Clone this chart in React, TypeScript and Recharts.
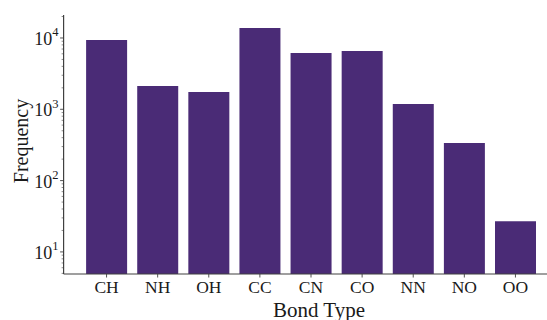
import { BarChart, Bar, XAxis, YAxis, Label } from "recharts";

const bonds = ["CH", "NH", "OH", "CC", "CN", "CO", "NN", "NO", "OO"];
const counts = [9400, 2120, 1750, 13800, 6150, 6550, 1190, 337, 27];
const majorTicks = [10, 100, 1000, 10000];
const minorSteps = [2, 3, 4, 5, 6, 7, 8, 9];
const yDomain = [4.9, 21000];

const serif = '"Liberation Serif", "Times New Roman", serif';
const ink = "#1a1a1a";
const spine = "#404040";
const barColor = "#4a2b76";

const data = bonds.map((bond, i) => ({ bond, count: counts[i] }));

// minor log ticks (2..9 x each decade) that fall inside the y range
const minorTicks = [1, 10, 100, 1000, 10000]
  .flatMap((d) => minorSteps.map((s) => s * d))
  .filter((v) => v >= yDomain[0] && v <= yDomain[1]);
const allTicks = [...majorTicks, ...minorTicks].sort((a, b) => a - b);

function LogTick(props: any) {
  const { x, y, payload } = props;
  const v = payload.value;
  const major = majorTicks.includes(v);
  return (
    <g>
      <line
        x1={x}
        x2={x - (major ? 3.5 : 2)}
        y1={y}
        y2={y}
        stroke={spine}
        strokeWidth={major ? 0.9 : 0.6}
      />
      {major && (
        <text x={x - 5} y={y + 7} textAnchor="end" fontSize={18} fontFamily={serif} fill={ink}>
          10
          <tspan dy={-8.5} fontSize={12.5}>
            {Math.round(Math.log10(v))}
          </tspan>
        </text>
      )}
    </g>
  );
}

export default function App() {
  return (
    <div
      style={{
        position: "fixed",
        left: 0,
        top: 0,
        width: 547,
        height: 320,
        overflow: "hidden",
        background: "#fff",
      }}
    >
      <BarChart
        width={590}
        height={320}
        data={data}
        margin={{ top: 15, right: 15.6, bottom: 0, left: 0 }}
        barCategoryGap="10%"
      >
        <XAxis
          xAxisId="top"
          orientation="top"
          dataKey="bond"
          height={0}
          tick={false}
          tickLine={false}
          axisLine={{ stroke: spine, strokeWidth: 1.2 }}
        />
        <XAxis
          dataKey="bond"
          height={46}
          padding={{ left: 17.4, right: 33.4 }}
          tickSize={3.5}
          tickMargin={3.2}
          tickLine={{ stroke: spine, strokeWidth: 0.9 }}
          axisLine={{ stroke: spine, strokeWidth: 1.2 }}
          tick={{ fontSize: 17.5, fontFamily: serif, fill: ink }}
          interval={0}
        >
          <Label
            value="Bond Type"
            position="insideBottom"
            offset={3.5}
            style={{ fontSize: 21, fontFamily: serif, fill: ink }}
          />
        </XAxis>
        <YAxis
          scale="log"
          domain={yDomain}
          allowDataOverflow
          ticks={allTicks}
          interval={0}
          width={63.6}
          tickSize={0}
          tickMargin={0}
          tick={LogTick}
          tickLine={false}
          axisLine={{ stroke: spine, strokeWidth: 1.2 }}
        >
          <Label
            content={() => (
              <text
                transform="translate(28,141) rotate(-90)"
                textAnchor="middle"
                fontSize={20}
                fontFamily={serif}
                fill={ink}
              >
                Frequency
              </text>
            )}
          />
        </YAxis>
        <Bar xAxisId={0} dataKey="count" fill={barColor} isAnimationActive={false} />
      </BarChart>
    </div>
  );
}
